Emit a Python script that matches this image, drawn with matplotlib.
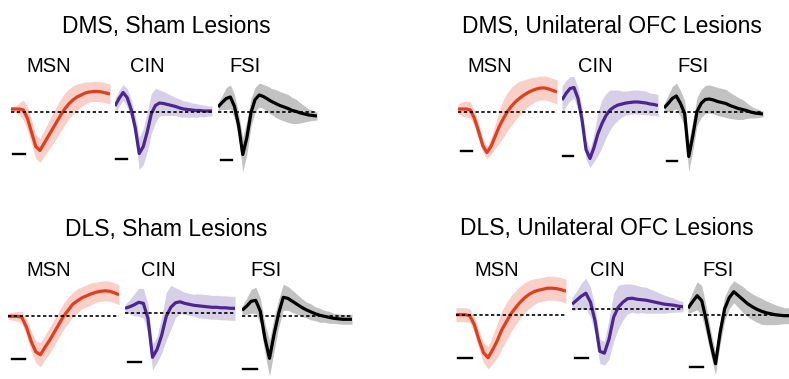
import numpy as np
import matplotlib.pyplot as plt

plt.rcParams['font.family'] = ['Liberation Sans', 'DejaVu Sans']

# panel titles and cell types
titles = ['DMS, Sham Lesions', 'DMS, Unilateral OFC Lesions',
          'DLS, Sham Lesions', 'DLS, Unilateral OFC Lesions']
cellTypes = ['MSN', 'CIN', 'FSI']

# mean waveforms (relative to baseline) and shaded spread, 25 samples each
dmsShamMsn = [2.5, 2.5, 2.5, 1.5, -7, -21, -35, -39, -32, -25, -18, -11, -4,
              2.5, 7.5, 11.5, 14.5, 16.5, 18.5, 19.5, 20, 20, 19.5, 18.5, 17.5]
dmsShamMsnSd = [2, 3, 6, 10, 12, 12, 12, 12, 13, 14, 15, 16, 16,
                16, 15, 14, 13, 12, 11, 10, 10, 10, 10, 10, 10]
dmsShamCin = [5.5, 13, 19, 14, 2, -16, -42, -35, -20, -2, 6, 8.5, 8,
              7, 6, 5, 3.5, 2.5, 2, 1.5, 1, 1, 0.5, 0.5, 0.5]
dmsShamCinSd = [8, 8, 8, 9, 10, 12, 16, 18, 20, 20, 17, 13, 12,
                11, 10, 9, 9, 8, 8, 7, 7, 6, 6, 5, 5]
dmsShamFsi = [4.5, 9, 13, 14.5, 5, -14, -43, -26, -1, 12, 16.5, 15, 12.5,
              10, 8, 6, 4.5, 3, 1, 0, -1.5, -2.5, -3.5, -4, -4.5]
dmsShamFsiSd = [4, 7, 11, 12, 12, 12, 17, 17, 14, 12, 12, 12, 13,
                13, 14, 14, 14, 14, 13, 12, 10, 8, 6, 5, 4]

dmsOfcMsn = [2.5, 2.5, 2.5, 1.5, -7, -20, -34, -41, -35, -25, -15, -7, 0,
             5.5, 10, 13.5, 16.5, 19, 21, 22.5, 23.5, 23.5, 22.5, 21, 19.5]
dmsOfcMsnSd = [5, 7, 8, 8, 8, 8, 7, 6, 8, 12, 16, 19, 19,
               19, 18, 17, 15, 14, 13, 12, 12, 12, 12, 12, 12]
dmsOfcCin = [11.5, 18, 23, 24, 13, -8, -38, -47, -36, -22, -12, -4, 1.5,
             4.5, 6.5, 7.5, 8.5, 9, 9.5, 9.5, 9, 8.5, 7.5, 7, 6]
dmsOfcCinSd = [14, 13, 12, 11, 11, 11, 10, 9, 14, 22, 24, 22, 20,
               17, 15, 13, 12, 12, 12, 12, 12, 12, 11, 11, 11]
dmsOfcFsi = [3.5, 8, 13, 15.5, 8, -2, -45, -24, 0, 8, 12, 12.5, 11.5,
             10, 9, 8, 6, 4.5, 3, 2, 1, -0.5, -1.5, -2, -2.5]
dmsOfcFsiSd = [4, 8, 12, 13, 13, 13, 15, 15, 14, 14, 14, 14, 14,
               14, 14, 14, 13, 12, 11, 10, 8, 6, 5, 4, 3]

dlsShamMsn = [0, 0, 0, -1, -11, -25, -35.5, -38.5, -31, -24, -16, -8, 0,
              6, 12, 15.5, 18.5, 20.5, 22.5, 24, 25, 25.5, 25, 23.5, 21.5]
dlsShamMsnSd = [3, 4, 5, 6, 8, 10, 11, 12, 12, 13, 13, 13, 13,
                13, 12, 12, 11, 11, 11, 10, 10, 10, 10, 10, 10]
dlsShamCin = [5, 6.5, 8.5, 11, 10, -5, -44, -36, -22, -3, 6, 10.5, 11.5,
              10, 9, 8, 7.5, 7, 6.5, 6, 6, 5.5, 5.5, 5, 5]
dlsShamCinSd = [4, 7, 11, 14, 15, 14, 13, 13, 18, 24, 22, 15, 12,
                11, 11, 11, 12, 12, 12, 12, 12, 12, 12, 12, 12]
dlsShamFsi = [6, 10, 15, 16, 5, -22, -42, -18, 3, 19, 18, 15, 12,
              9, 6.5, 4.5, 2.5, 1, 0, -1, -2, -2.5, -3, -3, -3]
dlsShamFsiSd = [4, 8, 12, 13, 13, 15, 18, 17, 14, 13, 12, 11, 10,
                9, 8, 8, 7, 7, 6, 6, 5, 5, 5, 5, 5]

dlsOfcMsn = [0, 0, 0, -1, -10, -25, -38, -43, -35, -26, -15, -7, 1,
             7, 12.5, 17, 20.5, 23, 24.5, 25.5, 26.5, 26.5, 26, 25, 23.5]
dlsOfcMsnSd = [7, 7, 7, 7, 8, 9, 10, 11, 14, 17, 19, 19, 18,
               17, 16, 15, 14, 13, 12, 12, 12, 12, 12, 12, 12]
dlsOfcCin = [5, 9, 13, 16, 7, -12, -42, -44, -30, -8, 2, 7, 10.5,
             11, 10, 9.5, 9, 8, 7, 6, 5, 4.5, 4, 3, 2.5]
dlsOfcCinSd = [7, 9, 13, 15, 15, 13, 12, 12, 20, 24, 22, 18, 15,
               14, 14, 13, 13, 12, 11, 10, 9, 8, 7, 6, 5]
dlsOfcFsi = [6.5, 13, 19, 14, -6, -29, -49, -18, 6, 17, 23, 19, 15,
             11, 8, 5.5, 3.5, 2, 1, 0, -0.5, -1, -1, -1, -1]
dlsOfcFsiSd = [5, 10, 14, 15, 14, 12, 11, 12, 12, 11, 11, 12, 13,
               13, 13, 13, 13, 12, 11, 10, 9, 8, 8, 8, 8]

W, H = 789, 379
HALF = 80
colors = {'MSN': '#e23d1c', 'CIN': '#4b2691', 'FSI': '#000000'}
bandAlpha = {'MSN': 0.24, 'CIN': 0.22, 'FSI': 0.24}

# layout in pixels: (left, width, baseline y, scale bar x0, x1, scale bar y)
layout = [
    [(11, 99, 111.5, 2, 14, -42), (115, 97, 111.5, 1, 12, -47.5), (218, 99, 111.5, 3, 14, -48)],
    [(458, 99, 111.5, 3, 14, -39.5), (562, 96, 111.5, 1, 11, -44.5), (664, 99, 111.5, 3, 13, -49.5)],
    [(8, 111, 316.3, 4, 17, -43), (125, 110, 313.3, 3, 16, -48.7), (242, 110, 316.3, 1, 15, -52.7)],
    [(456, 110, 314.7, 2, 16, -43.3), (572, 111, 309.2, 3, 16, -48.8), (688, 110, 314.7, 2, 15, -52.3)],
]
titlePos = [(166, 33), (612, 33), (166, 235.5), (607, 235)]
labelPos = [[(49, 71.5), (147, 71.5), (245, 71.5)],
            [(490, 71.5), (595, 71.5), (693, 71.5)],
            [(49, 276), (158, 276), (266, 276)],
            [(497, 275.5), (607, 275.5), (718, 275.5)]]

waves = [
    [(dmsShamMsn, dmsShamMsnSd), (dmsShamCin, dmsShamCinSd), (dmsShamFsi, dmsShamFsiSd)],
    [(dmsOfcMsn, dmsOfcMsnSd), (dmsOfcCin, dmsOfcCinSd), (dmsOfcFsi, dmsOfcFsiSd)],
    [(dlsShamMsn, dlsShamMsnSd), (dlsShamCin, dlsShamCinSd), (dlsShamFsi, dlsShamFsiSd)],
    [(dlsOfcMsn, dlsOfcMsnSd), (dlsOfcCin, dlsOfcCinSd), (dlsOfcFsi, dlsOfcFsiSd)],
]


def drawWave(fig, box, mean, sd, cell):
    left, width, base, bx0, bx1, by = box
    ax = fig.add_axes([left / W, 1 - (base + HALF) / H, width / W, 2 * HALF / H])
    ax.set_xlim(0, width)
    ax.set_ylim(-HALF, HALF)
    ax.axis('off')
    ax.patch.set_alpha(0)
    mean = np.array(mean, dtype=float)
    sd = np.array(sd, dtype=float)
    t = np.linspace(0, width, len(mean))
    ax.fill_between(t, mean - sd, mean + sd, color=colors[cell],
                    alpha=bandAlpha[cell], lw=0)
    ax.plot(t, mean, color=colors[cell], lw=2.3, solid_capstyle='butt',
            solid_joinstyle='round')
    ax.plot([0, width], [0, 0], color='black', lw=1.2, ls=(0, (2, 1.5)))
    # scale bar
    ax.plot([bx0, bx1], [by, by], color='black', lw=1.7, clip_on=False)


fig = plt.figure(figsize=(W / 100, H / 100), dpi=100)
for p in range(4):
    tx, ty = titlePos[p]
    fig.text(tx / W, 1 - ty / H, titles[p], ha='center', va='baseline',
             fontsize=16.5)
    for c, cell in enumerate(cellTypes):
        lx, ly = labelPos[p][c]
        fig.text(lx / W, 1 - ly / H, cell, ha='center', va='baseline',
                 fontsize=14.5)
        mean, sd = waves[p][c]
        drawWave(fig, layout[p][c], mean, sd, cell)

fig.savefig('out.png', dpi=100)
